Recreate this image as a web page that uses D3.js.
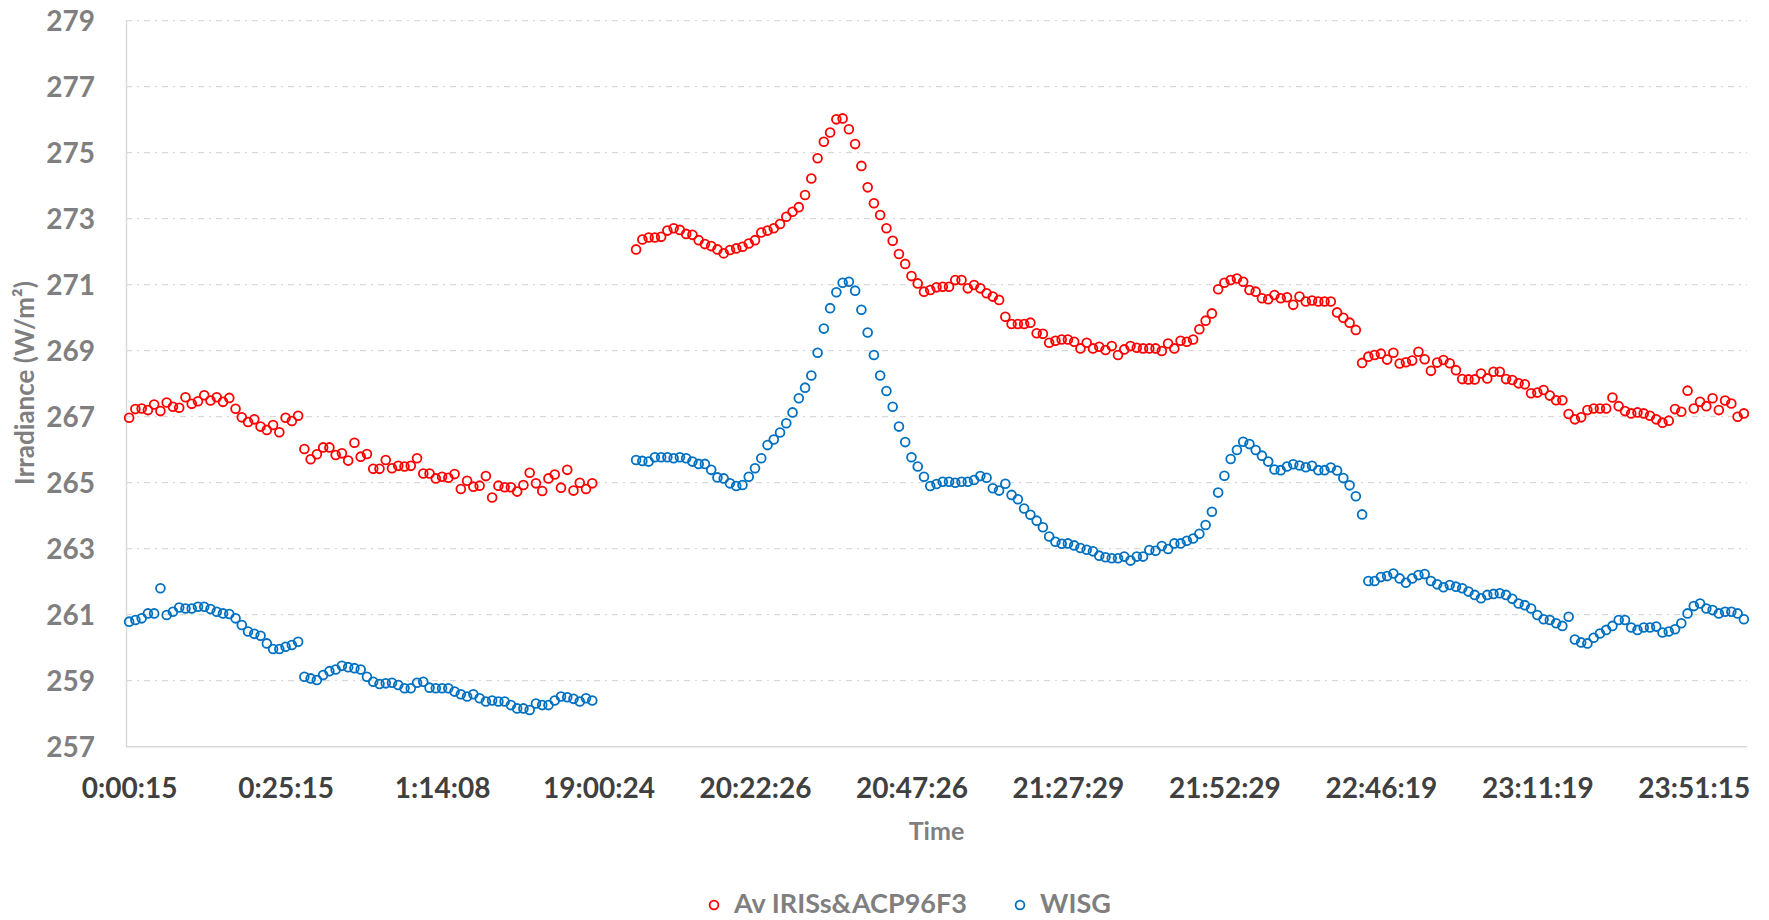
<!DOCTYPE html>
<html>
<head>
<meta charset="utf-8">
<script src="https://cdn.jsdelivr.net/npm/d3@7"></script>
<style>
  html, body { margin: 0; padding: 0; background: #ffffff; }
  svg { display: block; font-family: Lato, "Open Sans", sans-serif; }
</style>
</head>
<body>
<svg id="chart" width="1769" height="920"></svg>
<script>
// ---------------- data ----------------
const categoryCount = 259;
const tickIndices = [0, 25, 50, 75, 100, 125, 150, 175, 200, 225, 250];
const tickLabels = ["0:00:15", "0:25:15", "1:14:08", "19:00:24", "20:22:26", "20:47:26",
                    "21:27:29", "21:52:29", "22:46:19", "23:11:19", "23:51:15"];
const yTicks = [257, 259, 261, 263, 265, 267, 269, 271, 273, 275, 277, 279];
const seriesNames = ["Av IRISs&ACP96F3", "WISG"];

const avIrisAcp = [
  266.97, 267.23, 267.25, 267.2, 267.37, 267.17, 267.43, 267.3, 267.27, 267.59,
  267.39, 267.47, 267.65, 267.49, 267.59, 267.45, 267.57, 267.24, 266.98, 266.84,
  266.92, 266.7, 266.6, 266.75, 266.53, 266.97, 266.87, 267.03,
  266.02, 265.71, 265.86, 266.07, 266.07, 265.84, 265.89, 265.67, 266.21, 265.79,
  265.87, 265.42, 265.42, 265.69, 265.44, 265.51, 265.49, 265.51, 265.74, 265.28,
  265.28, 265.13, 265.18, 265.15, 265.26, 264.81, 265.06, 264.88, 264.91, 265.2,
  264.55, 264.91, 264.86, 264.86, 264.73, 264.93, 265.3, 264.98, 264.75, 265.13,
  265.25, 264.85, 265.39, 264.76, 265.0, 264.81, 264.98,
  null, null, null, null, null, null,
  272.07, 272.37, 272.43, 272.43, 272.45, 272.64, 272.71, 272.66, 272.54, 272.51,
  272.35, 272.23, 272.17, 272.07, 271.95, 272.05, 272.1, 272.15, 272.25, 272.35,
  272.58, 272.64, 272.71, 272.84, 273.06, 273.21, 273.35, 273.72, 274.22, 274.83,
  275.33, 275.61, 276.01, 276.04, 275.71, 275.26, 274.6, 273.95, 273.47, 273.11,
  272.71, 272.33, 271.93, 271.63, 271.26, 271.04, 270.79, 270.84, 270.92, 270.94,
  270.94, 271.14, 271.14, 270.89, 270.99, 270.89, 270.74, 270.64, 270.54, 270.03,
  269.81, 269.81, 269.81, 269.85, 269.53, 269.51, 269.24, 269.3, 269.34, 269.34,
  269.27, 269.07, 269.24, 269.07, 269.12,
  269.02, 269.14, 268.87, 269.04, 269.14, 269.09, 269.07, 269.07, 269.07, 268.99,
  269.22, 269.07, 269.3, 269.27, 269.34, 269.65, 269.91, 270.13, 270.86, 271.06,
  271.14, 271.19, 271.09, 270.84, 270.79, 270.59, 270.56, 270.69, 270.59, 270.62,
  270.39, 270.64, 270.49, 270.52, 270.49, 270.49, 270.49, 270.16, 270.0, 269.85,
  269.63, 268.63, 268.82, 268.87, 268.91, 268.73, 268.94, 268.61,
  268.65, 268.7, 268.97, 268.74, 268.39, 268.64, 268.72, 268.62, 268.41, 268.14,
  268.13, 268.13, 268.31, 268.16, 268.36, 268.36, 268.14, 268.11, 268.01, 267.98,
  267.71, 267.73, 267.81, 267.64, 267.5, 267.5, 267.08, 266.92, 266.98, 267.2,
  267.25, 267.25, 267.25, 267.58, 267.32, 267.17, 267.1, 267.13, 267.1, 267.03,
  266.92, 266.82, 266.88, 267.23, 267.15, 267.79, 267.25, 267.45, 267.32, 267.56,
  267.2, 267.49, 267.4, 267.0, 267.1
];

const wisg = [
  260.79, 260.84, 260.89, 261.04, 261.04, 261.8, 260.99, 261.09, 261.22, 261.19,
  261.19, 261.24, 261.24, 261.17, 261.09, 261.04, 261.02, 260.89, 260.69, 260.49,
  260.42, 260.36, 260.13, 259.96, 259.96, 260.03, 260.08, 260.18,
  259.12, 259.07, 259.02, 259.17, 259.29, 259.34, 259.45, 259.41, 259.38, 259.34,
  259.12, 258.97, 258.9, 258.92, 258.94, 258.87, 258.77, 258.77, 258.94, 258.97,
  258.79, 258.77, 258.77, 258.77, 258.67, 258.59, 258.52, 258.59, 258.47, 258.37,
  258.4, 258.37, 258.37, 258.26, 258.16, 258.16, 258.11, 258.31, 258.26, 258.26,
  258.4, 258.52, 258.5, 258.45, 258.37, 258.47, 258.4,
  null, null, null, null, null, null,
  265.69, 265.66, 265.64, 265.77, 265.77, 265.77, 265.74, 265.77, 265.74, 265.64,
  265.57, 265.57, 265.39, 265.16, 265.13, 264.98, 264.9, 264.93, 265.18, 265.44,
  265.74, 266.14, 266.31, 266.52, 266.8, 267.13, 267.56, 267.88, 268.25, 268.94,
  269.67, 270.29, 270.77, 271.06, 271.09, 270.82, 270.24, 269.55, 268.87, 268.25,
  267.78, 267.3, 266.7, 266.23, 265.77, 265.49, 265.18, 264.9, 264.96, 265.03,
  265.03, 265.0, 265.03, 265.03, 265.08, 265.2, 265.15, 264.83, 264.76, 264.97,
  264.63, 264.5, 264.22, 264.03, 263.85, 263.65, 263.37, 263.21, 263.15, 263.16,
  263.1, 263.02, 262.97, 262.92, 262.79,
  262.74, 262.71, 262.71, 262.76, 262.64, 262.76, 262.76, 262.96, 262.94, 263.08,
  262.99, 263.16, 263.16, 263.24, 263.31, 263.45, 263.72, 264.12, 264.7, 265.21,
  265.72, 265.99, 266.24, 266.17, 265.99, 265.82, 265.64, 265.4, 265.38, 265.49,
  265.56, 265.52, 265.47, 265.51, 265.38, 265.38, 265.46, 265.37, 265.14, 264.92,
  264.59, 264.04,
  262.02, 262.02, 262.14, 262.17, 262.25, 262.1, 261.97, 262.1, 262.2, 262.23,
  262.02, 261.92, 261.83, 261.9, 261.85, 261.8, 261.7, 261.6, 261.5, 261.6,
  261.63, 261.65, 261.6, 261.48, 261.34, 261.29, 261.19, 260.99, 260.86, 260.84,
  260.74, 260.66, 260.94, 260.25, 260.16, 260.13, 260.3, 260.43, 260.54, 260.66,
  260.84, 260.84, 260.61, 260.54, 260.61, 260.61, 260.64, 260.46, 260.49, 260.56,
  260.74, 261.04, 261.26, 261.34, 261.19, 261.14, 261.04, 261.09, 261.09, 261.04,
  260.86
];

// ---------------- layout ----------------
const plot = { left: 126, right: 1747, top: 20.7, bottom: 746.7 };
const colors = ["#FF0000", "#0070C0"];

const svg = d3.select("#chart");
svg.append("rect").attr("width", 1769).attr("height", 920).attr("fill", "#ffffff");

const categories = d3.range(categoryCount);
const x = d3.scalePoint().domain(categories).range([plot.left, plot.right]).padding(0.5);
const y = d3.scaleLinear().domain([257, 279]).range([plot.bottom, plot.top]);

// gridlines
svg.append("g").selectAll("line")
  .data(yTicks.filter(v => v > 257))
  .join("line")
  .attr("x1", plot.left).attr("x2", plot.right)
  .attr("y1", d => y(d)).attr("y2", d => y(d))
  .attr("stroke", "#D9D9D9").attr("stroke-width", 1.3)
  .attr("stroke-dasharray", "6 5 2 5");

// y axis
const yAxis = svg.append("g")
  .attr("transform", `translate(${plot.left},0)`)
  .call(d3.axisLeft(y).tickValues(yTicks).tickFormat(d3.format("d")).tickSize(0).tickSizeOuter(0).tickPadding(31));
yAxis.select(".domain").attr("stroke", "#D9D9D9").attr("stroke-width", 1.5);
yAxis.selectAll("text")
  .attr("font-family", "Lato, 'Open Sans', sans-serif")
  .attr("font-size", 28).attr("font-weight", 700)
  .attr("fill", "#7F7F7F").attr("dy", "0.36em");

// x axis
const xAxis = svg.append("g")
  .attr("transform", `translate(0,${plot.bottom})`)
  .call(d3.axisBottom(x).tickValues(tickIndices)
    .tickFormat(d => tickLabels[tickIndices.indexOf(d)])
    .tickSize(0).tickSizeOuter(0));
xAxis.select(".domain").attr("stroke", "#D9D9D9").attr("stroke-width", 1.5)
  .attr("d", `M${plot.left},0H${plot.right}`);
xAxis.selectAll("text")
  .attr("font-family", "Lato, 'Open Sans', sans-serif")
  .attr("font-size", 28).attr("font-weight", 700)
  .attr("fill", "#404040").attr("y", 51.3).attr("dy", 0);

// axis titles
svg.append("text")
  .attr("x", (plot.left + plot.right) / 2).attr("y", 840)
  .attr("text-anchor", "middle")
  .attr("font-size", 25).attr("font-weight", 700).attr("fill", "#7F7F7F")
  .text("Time");

svg.append("text")
  .attr("transform", "translate(34,383) rotate(-90)")
  .attr("text-anchor", "middle")
  .attr("font-size", 26).attr("font-weight", 700).attr("fill", "#7F7F7F")
  .text("Irradiance (W/m²)");

// series
const seriesData = [avIrisAcp, wisg];
seriesData.forEach((vals, si) => {
  svg.append("g").selectAll("circle")
    .data(vals.map((v, i) => ({ i, v })).filter(d => d.v !== null))
    .join("circle")
    .attr("cx", d => x(d.i))
    .attr("cy", d => y(d.v))
    .attr("r", 4.4)
    .attr("fill", "none")
    .attr("stroke", colors[si])
    .attr("stroke-width", 1.8);
});

// legend
const legendItems = [
  { name: seriesNames[0], color: colors[0], mx: 714 },
  { name: seriesNames[1], color: colors[1], mx: 1020 }
];
const lg = svg.append("g");
legendItems.forEach(it => {
  lg.append("circle").attr("cx", it.mx).attr("cy", 905).attr("r", 4.4)
    .attr("fill", "none").attr("stroke", it.color).attr("stroke-width", 1.8);
  lg.append("text").attr("x", it.mx + 20).attr("y", 913)
    .attr("font-size", 27).attr("font-weight", 700).attr("fill", "#7F7F7F")
    .text(it.name);
});
</script>
</body>
</html>
